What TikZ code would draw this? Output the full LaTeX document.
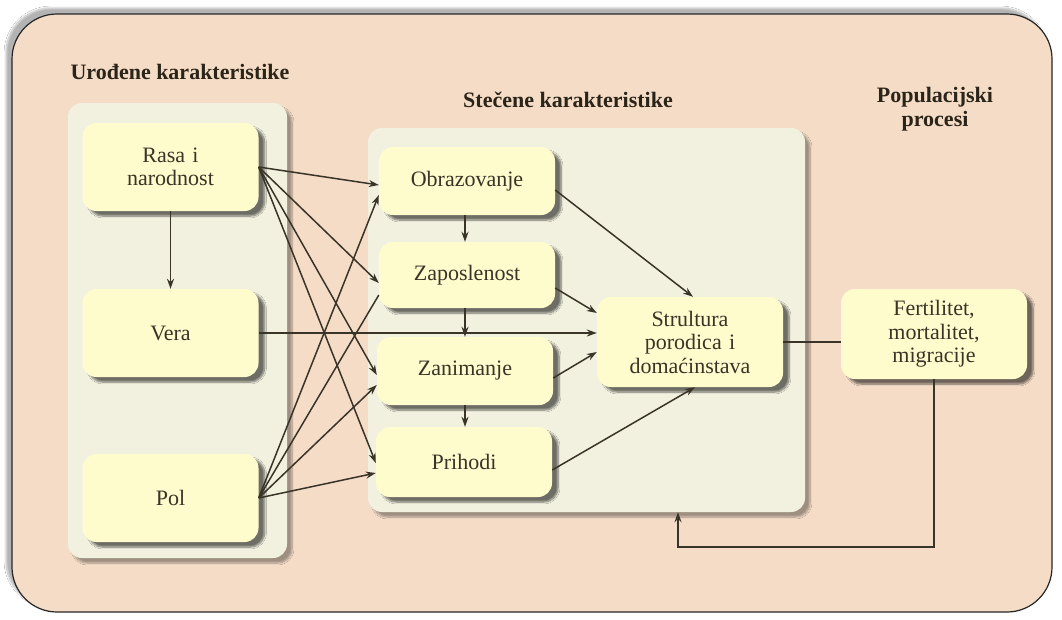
\documentclass[tikz,border=0pt]{standalone}
\usepackage{fontspec}
\setmainfont{Liberation Serif}
\usetikzlibrary{arrows.meta,calc,shadows.blur}
\definecolor{peach}{HTML}{F4DCC7}
\definecolor{panel}{HTML}{F2F1E0}
\definecolor{boxy}{HTML}{FEFBCC}
\definecolor{ink}{HTML}{3A3428}
\definecolor{title}{HTML}{2B2418}
\begin{document}
\begin{tikzpicture}[x=1pt,y=-1pt,
  font=\fontsize{22}{23.5}\selectfont,
  panelbox/.style={draw=none,fill=panel,rounded corners=14pt,
    blur shadow={shadow xshift=5pt,shadow yshift=-5pt,shadow blur steps=8,shadow opacity=35}},
  itembox/.style={draw=none,fill=boxy,rounded corners=14pt,text=ink,align=center,
    inner sep=2pt,text width=165pt,
    blur shadow={shadow xshift=6pt,shadow yshift=-5pt,shadow blur steps=8,shadow opacity=55}},
  ttl/.style={text=title,font=\fontsize{22}{23.5}\selectfont\bfseries,align=center},
  conn/.style={draw=ink,line width=1.5pt,-{Stealth[length=10pt,width=7pt]}},
  plain/.style={draw=ink,line width=1.5pt}]
\useasboundingbox (0,0) rectangle (1062,619);
\fill[white] (0,0) rectangle (1062,619);
% outer frame
\node[draw=black!85,line width=1.2pt,fill=peach,rounded corners=45pt,
  minimum width=1040pt,minimum height=598pt,inner sep=0pt,
  blur shadow={shadow xshift=-6pt,shadow yshift=6pt,shadow blur steps=10,shadow opacity=30}]
  (frame) at (532,313) {};
% panels
\node[panelbox,minimum width=219pt,minimum height=455pt,inner sep=0pt] (inn) at (177.5,330.5) {};
\node[panelbox,minimum width=437pt,minimum height=384pt,inner sep=0pt] (acq) at (586.5,320) {};
% titles
\node[ttl] (t1) at (180,72) {Urođene karakteristike};
\node[ttl] (t2) at (568,100) {Stečene karakteristike};
\node[ttl] (t3) at (935,109) {Populacijski\\procesi};
% boxes
\node[itembox,minimum width=176pt,minimum height=88pt] (rasa) at (170.5,167) {Rasa i\\narodnost};
\node[itembox,minimum width=176pt,minimum height=88pt] (vera) at (170.5,333) {Vera};
\node[itembox,minimum width=176pt,minimum height=88pt] (pol) at (170.5,498) {Pol};
\node[itembox,minimum width=176pt,minimum height=68pt] (obr) at (467,181) {Obrazovanje};
\node[itembox,minimum width=176pt,minimum height=66pt] (zap) at (467,275) {Zaposlenost};
\node[itembox,minimum width=176pt,minimum height=68pt] (zan) at (465,371) {Zanimanje};
\node[itembox,minimum width=176pt,minimum height=70pt] (pri) at (464,462) {Prihodi};
\node[itembox,minimum width=186pt,minimum height=90pt] (str) at (690,342) {Strultura\\porodica i\\domaćinstava};
\node[itembox,minimum width=186pt,minimum height=90pt] (fer) at (934,334) {Fertilitet,\\mortalitet,\\migracije};
% connectors from Rasa
\draw[conn] (rasa.south) -- (vera.north);
\draw[conn] (rasa.east) -- ($(obr.west)+(0,4)$);
\draw[conn] (rasa.east) -- ($(zap.west)+(0,8)$);
\draw[conn] (rasa.east) -- ($(zan.west)+(0,4)$);
\draw[conn] (rasa.east) -- ($(pri.west)+(0,1)$);
% connectors from Pol
\draw[conn] (pol.east) -- ($(obr.west)+(0,14)$);
\draw[plain] (pol.east) -- ($(zap.west)+(0,20)$);
\draw[conn] (pol.east) -- ($(zan.west)+(0,14)$);
\draw[conn] (pol.east) -- ($(pri.west)+(0,11)$);
% Vera to structure
\draw[conn] (vera.east) -- ($(str.west)+(0,-9)$);
% chain
\draw[conn] ($(obr.south)+(-2,0)$) -- ($(zap.north)+(-2,0)$);
\draw[conn] ($(zap.south)+(-2,0)$) -- ($(zan.north)+(0,0)$);
\draw[conn] ($(zan.south)+(0,0)$) -- ($(pri.north)+(1,0)$);
% to structure
\draw[conn] ($(obr.east)+(0,9)$) -- ($(str.north)+(3,0)$);
\draw[conn] ($(zap.east)+(0,13)$) -- ($(str.west)+(0,-29)$);
\draw[conn] ($(zan.east)+(0,7)$) -- ($(str.west)+(0,10)$);
\draw[conn] ($(pri.east)+(0,8)$) -- ($(str.south)+(5,0)$);
% structure to processes
\draw[plain] (str.east) -- (str.east -| fer.west);
% feedback
\coordinate (fb) at (678,547);
\draw[conn] (fer.south) |- (fb) -- (fb |- acq.south);
\end{tikzpicture}
\end{document}
